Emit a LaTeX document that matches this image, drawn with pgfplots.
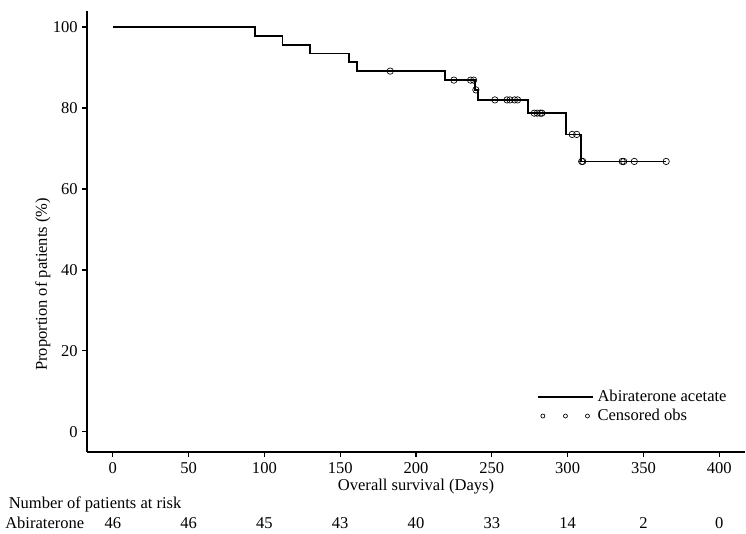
\documentclass[border=0pt]{standalone}
\usepackage{pgfplots}
\pgfplotsset{compat=1.18}
\usepackage{fontspec}
\setmainfont{Liberation Serif}
\begin{document}
\begin{tikzpicture}
\begin{axis}[
  at={(0,0)}, anchor=south west,
  scale only axis,
  width=493.5pt, height=330.8pt,
  xmin=-17, xmax=417, ymin=-5, ymax=104,
  axis x line*=bottom, axis y line*=left,
  axis line style={line width=1.8pt},
  xtick={0,50,...,400}, ytick={0,20,...,100},
  tick align=outside, major tick length=3.5pt,
  tick style={line width=1pt, black},
  /pgf/number format/assume math mode=true,
  font=\fontsize{12.4}{14}\selectfont,
  ticklabel style={font=\fontsize{12.4}{14}\selectfont},
  xticklabel style={yshift=-1pt},
  xlabel={Overall survival (Days)},
  xlabel style={at={(axis cs:200,-13.6)}, anchor=center},
  ylabel={Proportion of patients (\%)},
  ylabel style={at={(rel axis cs:-0.067,0.38)}, anchor=center},
  clip=false,
  legend style={at={(axis cs:279.6,10.6)}, anchor=north west, draw=none, fill=none,
    inner xsep=0pt, inner ysep=0pt, row sep=2pt,
    font=\fontsize{12.4}{14}\selectfont,
    nodes={inner xsep=2.5pt, inner ysep=1pt}},
  legend cell align=left,
]
\addplot[const plot, line width=1.35pt, black,
  legend image code/.code={\draw[line width=1.35pt] (0pt,0pt) -- (41.6pt,0pt);}]
  coordinates {
  (0,100) (94,97.83) (112,95.65) (130,93.48) (156,91.30) (161,89.13)
  (219,86.90) (239,84.49) (241,82.01) (274,78.73) (299,73.48) (309,66.80) (365,66.80)
  };
\addlegendentry{Abiraterone acetate}
\addplot[only marks, mark=o, mark size=2.4pt, black, mark options={line width=0.5pt},
  legend image code/.code={\draw[line width=0.5pt] (3.75pt,0pt) circle (1.5pt) (20.7pt,0pt) circle (1.5pt) (37.2pt,0pt) circle (1.5pt);}]
  coordinates {
  (183,89.13) (225,86.90) (236,86.90) (238,86.90) (239.5,84.49)
  (252,82.01) (260,82.01) (262,82.01) (265,82.01) (267,82.01)
  (278,78.73) (280,78.73) (282,78.73) (283,78.73)
  (303,73.48) (306,73.48)
  (309.3,66.80) (310,66.80) (336,66.80) (337,66.80) (344,66.80) (365,66.80)
  };
\addlegendentry{Censored obs}
\node[anchor=west] at (axis cs:-71.7,-18.0) {Number of patients at risk};
\node[anchor=west] at (axis cs:-74,-22.6) {Abiraterone};
\node at (axis cs:0,-22.6) {46};
\node at (axis cs:50,-22.6) {46};
\node at (axis cs:100,-22.6) {45};
\node at (axis cs:150,-22.6) {43};
\node at (axis cs:200,-22.6) {40};
\node at (axis cs:250,-22.6) {33};
\node at (axis cs:300,-22.6) {14};
\node at (axis cs:350,-22.6) {2};
\node at (axis cs:400,-22.6) {0};
\end{axis}
\pgfresetboundingbox
\path (-65.25pt,-61.5pt) rectangle (494.25pt,339pt);
\end{tikzpicture}
\end{document}
